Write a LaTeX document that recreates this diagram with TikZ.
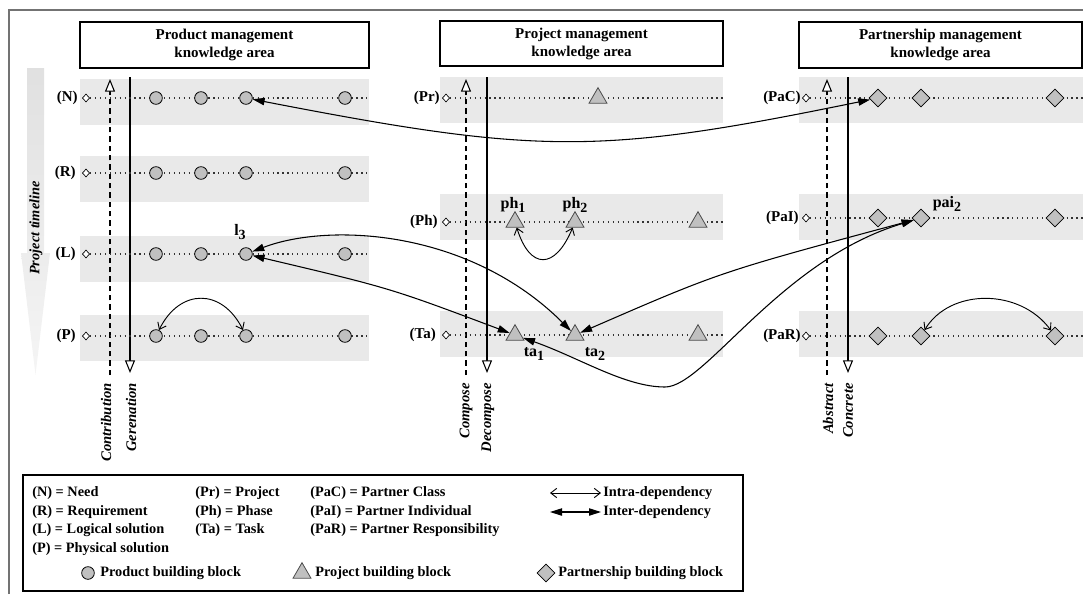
\documentclass[tikz,border=0pt]{standalone}
\usepackage{fontspec}
\setmainfont{Liberation Serif}
\usetikzlibrary{arrows.meta,shapes.geometric}
\definecolor{bandgray}{RGB}{233,233,233}
\definecolor{blockgray}{RGB}{192,192,192}
\definecolor{framegray}{RGB}{115,115,115}
\newcommand\lblsub[1]{\raisebox{-0.45ex}{\fontsize{10.5pt}{10.5pt}\selectfont#1}}
\begin{document}
\begin{tikzpicture}[x=0.75pt,y=-0.75pt,
  every node/.style={inner sep=0pt},
  hdr/.style={draw, line width=0.8pt, fill=white, align=center,
    font=\fontsize{11.25pt}{13.5pt}\selectfont\bfseries},
  band/.style={fill=bandgray},
  rowlab/.style={anchor=east, font=\fontsize{11.25pt}{12pt}\selectfont\bfseries},
  origin/.style={diamond, draw, fill=white, line width=0.5pt,
    minimum width=5.5pt, minimum height=6pt},
  rowline/.style={dash pattern=on 0.9pt off 2.8pt, line width=0.9pt, black!80},
  prod/.style={circle, draw, line width=0.6pt, fill=blockgray, minimum size=9.5pt},
  proj/.style={regular polygon, regular polygon sides=3, draw=black!70,
    line width=0.6pt, fill=blockgray, minimum size=15.5pt},
  part/.style={diamond, draw, line width=0.6pt, fill=blockgray,
    minimum width=13.5pt, minimum height=13.5pt},
  blocklab/.style={font=\fontsize{12pt}{14pt}\selectfont\bfseries},
  axislab/.style={rotate=90, anchor=east,
    font=\fontsize{11pt}{12pt}\selectfont\bfseries\itshape},
  down/.style={line width=0.8pt, arrows={-Triangle[length=9.5pt,width=7.5pt,fill=white]}},
  up/.style={line width=0.8pt, dash pattern=on 4pt off 3pt,
    arrows={-Triangle[length=9.5pt,width=7.5pt,fill=white]}},
  inter/.style={line width=0.8pt,
    arrows={Triangle[length=9pt,width=5.5pt]-Triangle[length=9pt,width=5.5pt]}},
  intra/.style={line width=0.7pt,
    arrows={Straight Barb[length=4.5pt,width=7pt]-Straight Barb[length=4.5pt,width=7pt]}},
  legtext/.style={anchor=west, font=\fontsize{10.75pt}{12pt}\selectfont\bfseries},
]
\useasboundingbox (0,0) rectangle (1083,594);

% outer frame (left and top edges)
\draw[framegray, line width=1.2pt] (9,594) -- (9,10) -- (1083,10);

% project timeline arrow
\shade[top color=black!12, bottom color=black!4]
  (27,68) -- (44,68) -- (44,253) -- (50,253) -- (35.5,375) -- (21,253) -- (27,253) -- cycle;
\node[rotate=90, font=\fontsize{10.75pt}{12pt}\selectfont\bfseries\itshape] (tl) at (36,228) {Project timeline};

% knowledge area headers
\node[hdr, minimum width=216.75pt, minimum height=34.5pt] (hprod) at (224.5,45)
  {Product management\\knowledge area};
\node[hdr, minimum width=212.25pt, minimum height=33.75pt] (hproj) at (581.5,43.5)
  {Project management\\knowledge area};
\node[hdr, minimum width=212.25pt, minimum height=34.5pt] (hpart) at (940.5,45)
  {Partnership management\\knowledge area};

% level bands
\fill[band] (80,79) rectangle (369,125);
\fill[band] (80,156) rectangle (369,202);
\fill[band] (80,236) rectangle (369,282);
\fill[band] (80,315) rectangle (369,361);
\fill[band] (440,77) rectangle (723,123);
\fill[band] (440,194) rectangle (723,240);
\fill[band] (440,311) rectangle (723,357);
\fill[band] (799,77) rectangle (1083,123);
\fill[band] (799,194) rectangle (1083,240);
\fill[band] (799,311) rectangle (1083,357);

% axis lines of each area
\coordinate (pa1) at (110,375); \coordinate (pa2) at (110,79);
\coordinate (pb1) at (130,77);  \coordinate (pb2) at (130,373);
\coordinate (ja1) at (466,375); \coordinate (ja2) at (466,79);
\coordinate (jb1) at (487,77);  \coordinate (jb2) at (487,373);
\coordinate (sa1) at (827,375); \coordinate (sa2) at (827,79);
\coordinate (sb1) at (848,77);  \coordinate (sb2) at (848,373);
\draw[up] (pa1) -- (pa2);
\draw[down] (pb1) -- (pb2);
\draw[up] (ja1) -- (ja2);
\draw[down] (jb1) -- (jb2);
\draw[up] (sa1) -- (sa2);
\draw[down] (sb1) -- (sb2);
\node[axislab] (lcon) at (106,383) {Contribution};
\node[axislab] (lgen) at (131,383) {Gerenation};
\node[axislab] (lcom) at (466,383) {Compose};
\node[axislab] (ldec) at (488,383) {Decompose};
\node[axislab] (labs) at (828,383) {Abstract};
\node[axislab] (lcnc) at (848,383) {Concrete};

% level labels and origins
\node[rowlab] (tN) at (78,98) {(N)};
\node[rowlab] (tR) at (76,173) {(R)};
\node[rowlab] (tL) at (76,254) {(L)};
\node[rowlab] (tP) at (76,336) {(P)};
\node[rowlab] (tPr) at (440,98) {(Pr)};
\node[rowlab] (tPh) at (438,222) {(Ph)};
\node[rowlab] (tTa) at (436,335) {(Ta)};
\node[rowlab] (tPaC) at (801,98) {(PaC)};
\node[rowlab] (tPaI) at (799,218) {(PaI)};
\node[rowlab] (tPaR) at (801,336) {(PaR)};

\node[origin] (oN) at (86,98) {};
\node[origin] (oR) at (86,173) {};
\node[origin] (oL) at (86,254) {};
\node[origin] (oP) at (86,336) {};
\node[origin] (oPr) at (446,98) {};
\node[origin] (oPh) at (446,222) {};
\node[origin] (oTa) at (446,335) {};
\node[origin] (oPaC) at (806,98) {};
\node[origin] (oPaI) at (806,218) {};
\node[origin] (oPaR) at (806,336) {};

\coordinate (eN) at (370,98);   \coordinate (eR) at (370,173);
\coordinate (eL) at (370,254);  \coordinate (eP) at (370,336);
\coordinate (ePr) at (723,98);  \coordinate (ePh) at (723,222);
\coordinate (eTa) at (723,335);
\coordinate (ePaC) at (1083,98); \coordinate (ePaI) at (1083,218);
\coordinate (ePaR) at (1083,336);
\foreach \r in {N,R,L,P,Pr,Ph,Ta,PaC,PaI,PaR}
  \draw[rowline] (o\r) -- (e\r);

% product building blocks
\foreach \i/\x in {1/156,2/201,3/246,4/345} {
  \node[prod] (n\i) at (\x,98) {};
  \node[prod] (r\i) at (\x,173) {};
  \node[prod] (l\i) at (\x,254) {};
  \node[prod] (p\i) at (\x,336) {};
}
% project building blocks
\node[proj] (pr1) at (598,98) {};
\foreach \i/\x in {1/515,2/575,3/698} {
  \node[proj] (ph\i) at (\x,222) {};
  \node[proj] (ta\i) at (\x,335) {};
}
% partnership building blocks
\foreach \i/\x in {1/878,2/921,3/1055} {
  \node[part] (pc\i) at (\x,98) {};
  \node[part] (pi\i) at (\x,218) {};
  \node[part] (pr\i) at (\x,336) {};
}

% block labels
\node[blocklab] (kl3) at (240,232) {l\lblsub{3}};
\node[blocklab] (kph1) at (513,205) {ph\lblsub{1}};
\node[blocklab] (kph2) at (575,205) {ph\lblsub{2}};
\node[blocklab] (kta1) at (534,354) {ta\lblsub{1}};
\node[blocklab] (kta2) at (595,354) {ta\lblsub{2}};
\node[blocklab] (kpai2) at (947,204) {pai\lblsub{2}};

% inter-dependencies
\draw[inter] (n3) .. controls (540,155) and (600,155) .. (pc1);
\draw[inter] (l3) .. controls (330,222) and (470,230) .. (ta2);
\draw[inter] (l3) .. controls (390,288) .. (ta1);
\coordinate (dip) at (665,387);
\draw[inter] (ta1) .. controls (580,358) and (625,387) .. (dip)
  .. controls (705,387) and (780,260) .. (pi2);
\draw[inter] (ta2) .. controls (720,272) .. (pi2);

% intra-dependencies
\draw[intra] (p1) .. controls (180,288) and (222,288) .. (p3);
\draw[intra] (ph1) .. controls (530,270) and (555,270) .. (ph2);
\draw[intra] (pr2) .. controls (950,288) and (1020,288) .. (pr3);

% legend
\draw[line width=0.8pt] (23,475) rectangle (743,591);
\node[legtext] (gN) at (32,493) {(N) = Need};
\node[legtext] (gR) at (32,512) {(R) = Requirement};
\node[legtext] (gL) at (32,530) {(L) = Logical solution};
\node[legtext] (gP) at (32,549) {(P) = Physical solution};
\node[legtext] (gPr) at (195,493) {(Pr) = Project};
\node[legtext] (gPh) at (195,512) {(Ph) = Phase};
\node[legtext] (gTa) at (195,530) {(Ta) = Task};
\node[legtext] (gPaC) at (310,493) {(PaC) = Partner Class};
\node[legtext] (gPaI) at (310,512) {(PaI) = Partner Individual};
\node[legtext] (gPaR) at (310,530) {(PaR) = Partner Responsibility};
\coordinate (ia) at (550,493); \coordinate (ib) at (601,493);
\coordinate (xa) at (550,512); \coordinate (xb) at (601,512);
\draw[intra] (ia) -- (ib);
\draw[inter] (xa) -- (xb);
\node[legtext] (gintra) at (603,493) {Intra-dependency};
\node[legtext] (ginter) at (603,512) {Inter-dependency};
\node[prod] (kprod) at (88,573) {};
\node[legtext] (gprod) at (100,573) {Product building block};
\node[proj] (kproj) at (302,573) {};
\node[legtext] (gproj) at (315,573) {Project building block};
\node[part] (kpart) at (546,573) {};
\node[legtext] (gpart) at (558,573) {Partnership building block};
\end{tikzpicture}
\end{document}
